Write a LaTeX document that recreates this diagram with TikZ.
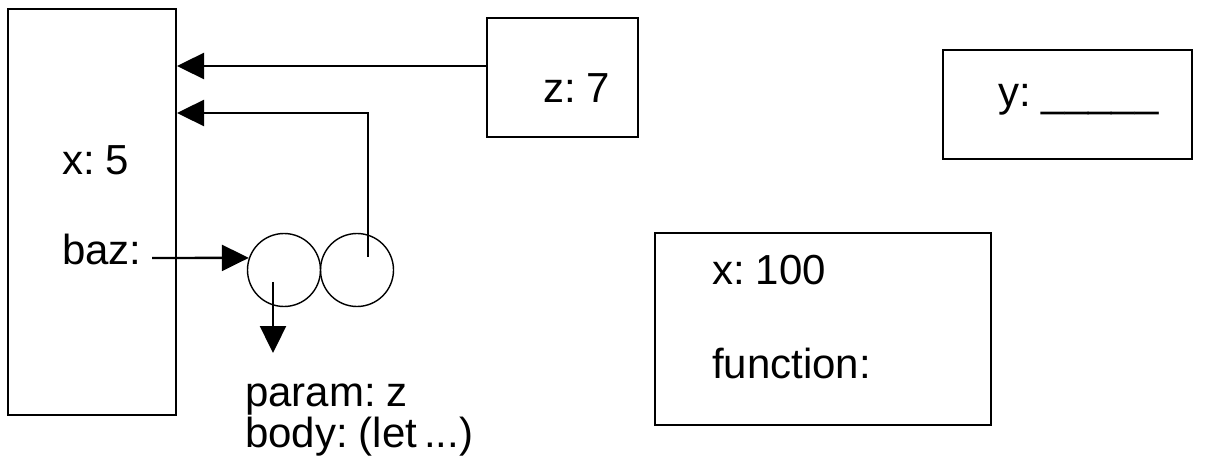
\documentclass[tikz,border=0pt]{standalone}
\usepackage{fontspec}
\setmainfont{Liberation Sans}
\usetikzlibrary{arrows.meta}
\newcommand\labelfont{\fontsize{42}{37}\selectfont\spaceskip=7pt\relax}
\begin{document}
\begin{tikzpicture}[x=1pt,y=-1pt,
  frame/.style={draw,line width=2pt,inner sep=0pt,minimum width=#1},
  cell/.style={draw,circle,line width=1.4pt,minimum size=73pt,inner sep=0pt},
  txt/.style={anchor=base west,inner sep=0pt,font=\labelfont},
  arr/.style={line width=2.4pt,-{Triangle[length=27pt,width=26pt]}}]
\useasboundingbox (0,0) rectangle (1207,462);

% frames
\node[frame=168pt,minimum height=406pt] (env) at (92,212) {};
\node[frame=151pt,minimum height=119pt] (zbox) at (562.5,77.5) {};
\node[frame=249pt,minimum height=109pt] (ybox) at (1067.5,104.5) {};
\node[frame=336pt,minimum height=192pt] (fbox) at (823,329) {};

% closure pair
\node[cell] (c1) at (284,270) {};
\node[cell] (c2) at (357,270) {};

% labels
\node[txt] (x5) at (62,175) {x: 5};
\node[txt] (baz) at (62,265) {baz:};
\node[txt] (z7) at (543,103) {z: 7};
\node[txt] (yv) at (998,107) {y: \_\_\_\_\_};
\node[txt] (x100) at (712,285) {x: 100};
\node[txt] (fn) at (712,378) {function:};
\node[txt,align=left] (code) at (245,447) {param: z\\body: (let ...)};

% pointers
\coordinate (bazstart) at (152,258);
\coordinate (envptr) at (368,257);
\coordinate (codeptr) at (273,282);
\coordinate (codeend) at (273,353);

\draw[arr] (zbox.west |- 0,66) -- (env.east |- 0,66);
\draw[arr] (envptr) -- (envptr |- 0,113) -- (env.east |- 0,113);
\draw[arr] (bazstart) -- (c1.161);
\draw[arr] (codeptr) -- (codeend);
\end{tikzpicture}
\end{document}
